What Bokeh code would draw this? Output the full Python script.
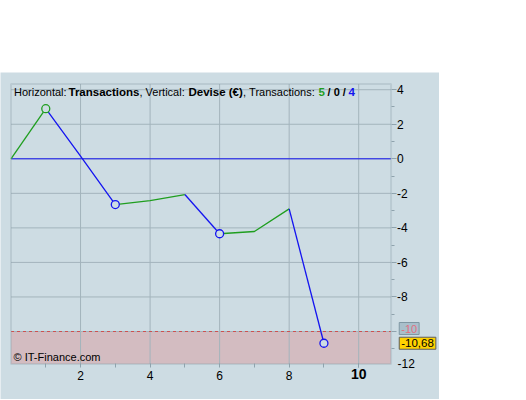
from bokeh.plotting import figure
from bokeh.models import BoxAnnotation, Label, FixedTicker, Spacer, LinearAxis, Range1d
from bokeh.layouts import column
from bokeh.embed import file_html
from bokeh.resources import INLINE

# ---- data ----
trade_x = [0, 1, 2, 3, 4, 5, 6, 7, 8, 9]
trade_y = [0.0, 2.9, 0.15, -2.65, -2.42, -2.07, -4.34, -4.21, -2.9, -10.68]
seg_side = ["win", "loss", "loss", "win", "win", "loss", "win", "win", "loss"]
marker_idx = [1, 3, 6, 9]
marker_side = ["win", "loss", "loss", "loss"]
x_ticks = [2, 4, 6, 8, 10]
x_minor = [1, 3, 5, 7, 9]
y_ticks = [4, 2, 0, -2, -4, -6, -8, -10]
y_minor = [3, 1, -1, -3, -5, -7, -9, -11]
y_bottom_label = "-12"
threshold = -10
last_value = -10.68
counts = [5, 0, 4]
box_x = (0, 10.93)      # visible plot box, data units
box_y = (-11.88, 4.33)

# ---- geometry / styles ----
FIG_W, FIG_H = 439, 327
PX_X, PX_Y = 34.77, 17.27
ORIGIN_X, ORIGIN_Y = 10.5, 86.3
BG = "#cddce3"
GRID = "#a3b4bc"
PINK = "#d3bcc1"
FRAME = "#8fa3ad"
GREEN = "#1f9e1f"
BLUE = "#1414f0"
FONT = "Liberation Sans"
side_color = {"win": GREEN, "loss": BLUE}

p = figure(width=FIG_W, height=FIG_H,
           x_range=Range1d(-ORIGIN_X / PX_X, (FIG_W - ORIGIN_X) / PX_X),
           y_range=Range1d(-(FIG_H - ORIGIN_Y) / PX_Y, ORIGIN_Y / PX_Y),
           x_axis_location=None, y_axis_location=None,
           output_backend="svg", toolbar_location=None,
           min_border=0, min_border_left=0, min_border_right=0,
           min_border_top=0, min_border_bottom=0)
p.background_fill_color = BG
p.border_fill_color = BG
p.outline_line_color = None
p.grid.grid_line_color = None

# threshold zone
p.add_layout(BoxAnnotation(left=box_x[0], right=box_x[1], bottom=box_y[0], top=threshold,
                           fill_color=PINK, fill_alpha=1, line_color=None, level="underlay"))

# grid lines inside the box
nx, ny = len(x_ticks), len(y_ticks)
p.segment(x0=x_ticks, y0=[box_y[0]] * nx, x1=x_ticks, y1=[box_y[1]] * nx,
          line_color=GRID, line_width=1)
p.segment(x0=[box_x[0]] * ny, y0=y_ticks, x1=[box_x[1]] * ny, y1=y_ticks,
          line_color=GRID, line_width=1)

# zero line and threshold line
p.segment(x0=[box_x[0]], y0=[0], x1=[box_x[1]], y1=[0], line_color=BLUE, line_width=1)
p.segment(x0=[box_x[0]], y0=[threshold], x1=[box_x[1]], y1=[threshold],
          line_color="#cc5050", line_width=1, line_dash="3 3")

# equity line, split into runs of same side
runs = []
start = 0
for i in range(1, len(seg_side) + 1):
    if i == len(seg_side) or seg_side[i] != seg_side[start]:
        runs.append((start, i, seg_side[start]))
        start = i
for a, b, side in runs:
    p.line(trade_x[a:b + 1], trade_y[a:b + 1], line_color=side_color[side], line_width=1.3)

for idx, side in zip(marker_idx, marker_side):
    p.scatter([trade_x[idx]], [trade_y[idx]], size=8, marker="circle",
              line_color=side_color[side], fill_color=BG, line_width=1.3)

# box outline
p.add_layout(BoxAnnotation(left=box_x[0], right=box_x[1], bottom=box_y[0], top=box_y[1],
                           fill_alpha=0, line_color=FRAME, line_width=2))

# axes at the box edges
xaxis = LinearAxis(fixed_location=box_y[0], ticker=FixedTicker(ticks=x_ticks, minor_ticks=x_minor))
yaxis = LinearAxis(fixed_location=box_x[1], ticker=FixedTicker(ticks=y_ticks, minor_ticks=y_minor),
                   bounds=box_y)
for ax in (xaxis, yaxis):
    ax.axis_line_color = None
    ax.major_tick_line_color = FRAME
    ax.minor_tick_line_color = FRAME
    ax.major_tick_in = 0
    ax.minor_tick_in = 0
    ax.major_label_text_font = FONT
    ax.major_label_text_font_size = "12px"
    ax.major_label_text_color = "#000000"
xaxis.major_tick_out = 4
xaxis.minor_tick_out = 4
xaxis.major_label_standoff = 3
yaxis.major_tick_out = 5
yaxis.minor_tick_out = 3
yaxis.major_label_standoff = 1
xaxis.major_label_overrides = {t: ("" if t == 10 else str(t)) for t in x_ticks}
yaxis.major_label_overrides = {t: ("" if t == threshold else str(t)) for t in y_ticks}
p.add_layout(xaxis, "below")
p.add_layout(yaxis, "right")

# bold "10" label via its own axis
xaxis10 = LinearAxis(fixed_location=box_y[0], ticker=FixedTicker(ticks=[10], minor_ticks=[]))
xaxis10.axis_line_color = None
xaxis10.major_tick_line_color = FRAME
xaxis10.major_tick_in = 0
xaxis10.major_tick_out = 4
xaxis10.minor_tick_out = 0
xaxis10.major_label_standoff = 1
xaxis10.major_label_text_font = FONT
xaxis10.major_label_text_font_size = "14px"
xaxis10.major_label_text_font_style = "bold"
xaxis10.major_label_text_color = "#000000"
p.add_layout(xaxis10, "below")

# "-12" at the bottom of the right axis
p.add_layout(Label(x=box_x[1], y=box_y[0], x_offset=6.5, text=y_bottom_label,
                   text_font=FONT, text_font_size="12px", text_color="#000000",
                   text_baseline="alphabetic", text_align="left"))

# threshold box on axis
p.add_layout(Label(x=box_x[1], y=threshold, x_offset=8.2, y_offset=3, text=str(threshold),
                   text_font=FONT, text_font_size="11px", text_color="#e07080",
                   text_baseline="middle", text_align="left", padding=2,
                   background_fill_color="#a9bfcb", border_line_color="#7f97a3"))

# last value box
p.add_layout(Label(x=box_x[1], y=last_value, x_offset=8.2,
                   text=("%.2f" % last_value).replace(".", ","),
                   text_font=FONT, text_font_size="11.5px", text_color="#000000",
                   text_baseline="middle", text_align="left", padding=2,
                   background_fill_color="#ffd200", border_line_color="#5e5e5e"))

# title segments (page x positions, frame starts at page x 0)
NB = "\u00a0"
segments = [
    ("Horizontal:" + NB, "normal", "11px", "#000000", 13.5),
    ("Transactions", "bold", "11.5px", "#000000", 68),
    ("," + NB + "Vertical:" + NB, "normal", "11px", "#000000", 139),
    ("Devise (\u20ac)", "bold", "11.5px", "#000000", 188),
    ("," + NB + "Transactions:" + NB, "normal", "11px", "#000000", 242.5),
    (str(counts[0]), "bold", "11.5px", GREEN, 318),
    (NB + "/" + NB + str(counts[1]) + NB + "/" + NB, "bold", "11px", "#000000", 324),
    (str(counts[2]), "bold", "11.5px", BLUE, 348),
]
for txt, style, size, col, xs in segments:
    p.add_layout(Label(x=xs, y=307.7, x_units="screen", y_units="screen", text=txt,
                       text_font=FONT, text_font_size=size, text_font_style=style,
                       text_color=col, text_baseline="middle", text_align="left"))

p.add_layout(Label(x=13, y=42.5, x_units="screen", y_units="screen", text="\u00a9 IT-Finance.com",
                   text_font=FONT, text_font_size="11px", text_color="#000000",
                   text_baseline="middle", text_align="left"))

layout = column(Spacer(width=FIG_W, height=72), p)
open("out.html", "w").write(file_html(layout, INLINE))
